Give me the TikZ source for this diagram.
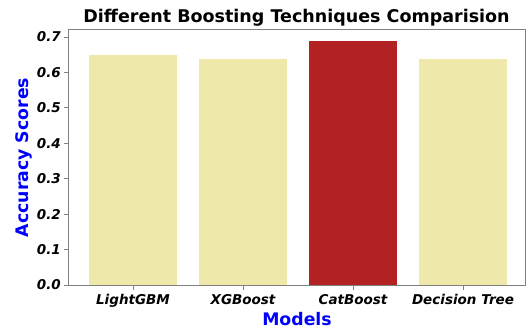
\documentclass[tikz,border=0pt]{standalone}
\usepackage{fontspec}
\setmainfont{DejaVu Sans}
\definecolor{pgold}{HTML}{EEE8AA}
\definecolor{fbrick}{HTML}{B22222}
\definecolor{axgray}{HTML}{808080}
\begin{document}
\begin{tikzpicture}[x=1pt,y=-1pt,
  bar/.style={fill=pgold},
  hibar/.style={fill=fbrick},
  ticklab/.style={font=\fontsize{13.5}{13.5}\selectfont\bfseries\itshape,inner sep=0pt},
  axlab/.style={font=\fontsize{17.3}{17.3}\selectfont\bfseries,text=blue,inner sep=0pt},
  ttl/.style={font=\fontsize{17.5}{17.5}\selectfont\bfseries,inner sep=0pt},
  tickm/.style={draw=axgray,line width=0.8pt}]
\useasboundingbox (0,0) rectangle (528,330);
% bars
\fill[bar] (89,{285-0.648*354.3}) rectangle (177,285);
\fill[bar] (199,{285-0.638*354.3}) rectangle (287,285);
\fill[hibar] (309,{285-0.689*354.3}) rectangle (397,285);
\fill[bar] (419,{285-0.637*354.3}) rectangle (507,285);
% frame
\draw[axgray,line width=0.9pt] (68,29) rectangle (525,285);
% y ticks
\foreach \v in {0,1,...,7}{
  \draw[tickm] (63.5,{285-\v*35.43}) -- (68,{285-\v*35.43});
  \node[ticklab,anchor=east] (yt\v) at (61,{285-\v*35.43}) {0.\v};
}
% x ticks
\foreach \c/\n/\t in {133/a/LightGBM,243/b/XGBoost,353/c/CatBoost,463/d/Decision Tree}{
  \draw[tickm] (\c,285) -- (\c,289.5);
  \node[ticklab,anchor=base] (xt\n) at (\c,304) {\t};
}
\node[axlab,anchor=base] (xl) at (297,325) {Models};
\node[axlab,anchor=base,rotate=90] (yl) at (28,157.5) {Accuracy Scores};
\node[ttl,anchor=base] (title) at (296.5,22.7) {Different Boosting Techniques Comparision};
\end{tikzpicture}
\end{document}
